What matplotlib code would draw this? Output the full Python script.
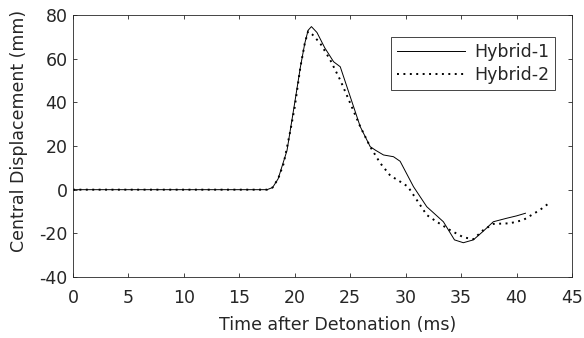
import matplotlib
matplotlib.use("Agg")
import matplotlib.pyplot as plt

# Hybrid-1 (solid)
t1 = [0, 17.5, 18.0, 18.5, 19.3, 20.0, 20.5, 20.9, 21.2, 21.5, 22.0, 22.7, 23.5, 24.1,
      25.0, 25.9, 26.8, 27.3, 28.0, 28.9, 29.5, 30.7, 31.9, 33.4, 34.4, 35.2, 36.1,
      37.0, 37.9, 39.1, 40.0, 40.8]
d1 = [0, 0, 1, 5, 18, 40, 56, 67, 73, 74.7, 72, 65, 58.6, 56.3,
      42.6, 28.9, 19.7, 18, 15.9, 15.1, 13, 1.4, -7.8, -14.7, -23, -24.3, -23,
      -19, -14.7, -13.1, -12, -10.8]

# Hybrid-2 (dotted)
t2 = [0, 17.5, 18.0, 18.5, 19.0, 19.6, 20.0, 20.5, 20.9, 21.2, 21.6, 22.3, 23.2, 24.1,
      25.0, 25.9, 26.8, 27.7, 28.6, 29.5, 30.2, 31.0, 31.9, 32.8, 34.0, 35.2, 36.1,
      37.0, 37.9, 39.4, 40.6, 42.1, 43.0]
d2 = [0, 0, 1, 5, 12, 27, 38, 56, 67, 72.5, 71, 67, 59.4, 50.2,
      39.6, 28.9, 19.7, 12.2, 6.5, 3.7, 1.4, -4.7, -11.6, -14.7, -18.5, -21.8, -22.7,
      -18.5, -15.7, -15.4, -13.9, -9.3, -5.9]

gray = "#262626"
plt.rcParams['font.family'] = ['DejaVu Sans']
plt.rcParams['axes.unicode_minus'] = False

fig = plt.figure(figsize=(5.84, 3.38), dpi=100)
ax = fig.add_axes([0.125, 0.1805, 0.8545, 0.775])

ax.plot(t1, d1, color="black", linewidth=0.7, label="Hybrid-1")
ax.plot(t2, d2, color="black", linewidth=1.4, linestyle=(0, (1, 2.3)), label="Hybrid-2")

ax.set_xlim(0, 45)
ax.set_ylim(-40, 80)
ax.set_xticks(range(0, 46, 5))
ax.set_yticks(range(-40, 81, 20))
ax.tick_params(direction="in", top=True, right=True, colors=gray, labelcolor=gray,
               length=3, width=0.6, labelsize=12.5)
ax.tick_params(axis="x", pad=9)
ax.tick_params(axis="y", pad=4)
for s in ax.spines.values():
    s.set_color(gray)
    s.set_linewidth(0.6)

ax.set_xlabel("Time after Detonation (ms)", color=gray, fontsize=12.5)
ax.set_ylabel("Central Displacement (mm)", color=gray, fontsize=12.5)
ax.xaxis.set_label_coords(0.531, -0.148)
ax.yaxis.set_label_coords(-0.09, 0.557)

leg = ax.legend(loc="upper right", bbox_to_anchor=(0.966, 0.917), borderaxespad=0,
                fancybox=False, edgecolor=gray, handlelength=3.9, fontsize=12.5,
                labelspacing=0.3, handletextpad=0.5, borderpad=0.35, framealpha=1)
leg.get_frame().set_linewidth(0.6)
for txt in leg.get_texts():
    txt.set_color(gray)

fig.savefig("out.png", dpi=100)
